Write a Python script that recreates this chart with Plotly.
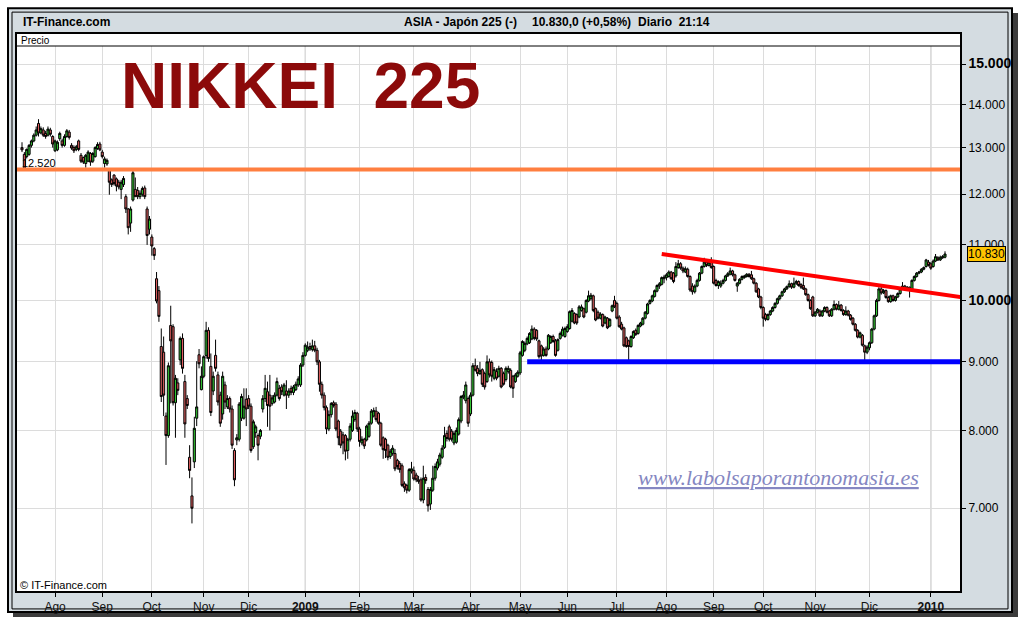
import math
import plotly.graph_objects as go

# Daily Nikkei 225 candles (open, high, low, close), one list per month
JUL08 = [
    (13000, 13120, 12900, 12950), (12850, 12900, 12500, 12530), (12800, 12980, 12760, 12960),
    (12850, 13080, 12820, 13050), (13050, 13180, 13000, 13150), (13150, 13320, 13120, 13280),
    (13280, 13480, 13250, 13400), (13550, 13650, 13250, 13330), (13330, 13480, 13300, 13430),
    (13400, 13460, 13240, 13280), (13320, 13380, 13200, 13250), (13280, 13480, 13250, 13420),
    (13400, 13450, 13250, 13300), (13250, 13280, 13000, 13080),
]
AUG08 = [
    (12930, 13180, 12900, 13150), (12950, 13160, 12920, 13120), (13200, 13360, 13150, 13320),
    (13150, 13200, 13000, 13050), (13050, 13300, 13020, 13250), (13250, 13420, 13220, 13380),
    (13350, 13400, 13180, 13230), (13050, 13100, 12950, 12990), (13000, 13050, 12880, 12930),
    (12960, 13060, 12920, 13020), (13150, 13180, 12920, 12960), (12830, 12880, 12660, 12700),
    (12780, 12800, 12640, 12680), (12650, 12860, 12560, 12830), (12700, 12940, 12680, 12900),
    (12870, 12900, 12600, 12680), (12700, 12900, 12660, 12870), (12800, 13030, 12780, 13000),
    (12980, 13120, 12950, 13070), (13080, 13130, 12920, 12950),
]
SEP08 = [
    (12900, 12950, 12760, 12800), (12650, 12800, 12560, 12750), (12640, 12760, 12600, 12720),
    (12500, 12540, 11990, 12250), (12300, 12330, 12150, 12200), (12400, 12420, 12180, 12220),
    (12320, 12350, 12060, 12170), (12250, 12300, 12100, 12150), (12100, 12300, 11900, 12250),
    (12200, 12380, 12150, 12330), (11950, 12000, 11620, 11700), (11700, 11720, 11200, 11330),
    (11420, 11750, 11250, 11700), (11880, 12520, 11850, 12450), (12100, 12350, 11950, 11950),
    (12080, 12150, 11900, 11950), (11950, 12080, 11900, 12020), (12000, 12160, 11950, 12120),
    (12130, 12180, 11900, 11950), (11700, 11750, 11000, 11180), (11300, 11560, 11200, 11500),
]
OCT08 = [
    (11150, 11200, 10800, 10980), (10930, 10960, 10720, 10800), (10380, 10500, 9950, 9990),
    (10170, 10250, 9640, 9730), (9240, 9530, 8400, 8480), (9150, 9400, 8200, 8500),
    (8200, 8250, 7540, 7930), (7930, 8990, 7900, 8940), (9580, 9910, 8380, 9330),
    (9560, 9600, 8350, 8390), (8390, 8800, 7900, 8750), (8680, 8750, 8500, 8570),
    (9030, 9400, 8950, 9370), (9370, 9450, 8820, 8900), (8700, 8800, 7900, 8090),
    (8450, 8500, 8300, 8350), (7640, 7800, 7370, 7470), (7150, 7380, 6820, 7000),
    (7580, 8190, 7500, 8030), (8170, 9010, 8060, 8330), (9110, 9200, 8900, 8970),
    (8580, 8930, 8570, 8780),
]
NOV08 = [
    (8780, 9100, 8750, 9080), (9100, 9640, 9050, 9500), (9500, 9550, 9000, 9050),
    (8930, 9130, 8200, 8250), (8560, 8850, 8500, 8780), (9100, 9350, 8850, 8900),
    (8800, 8850, 8350, 8400), (8500, 8550, 8050, 8100), (8230, 8850, 8150, 8780),
    (8650, 8700, 8300, 8400), (8330, 8500, 8300, 8450), (8450, 8480, 8250, 8300),
    (8300, 8350, 7750, 7800), (7730, 7760, 7270, 7350), (7870, 7950, 7800, 7900),
    (7880, 8400, 7850, 8370), (8170, 8520, 8130, 8480), (8170, 8600, 8150, 8340),
    (8440, 8600, 8060, 8300),
]
DEC08 = [
    (8450, 8500, 8300, 8340), (8340, 8380, 7700, 7730), (7780, 8150, 7750, 8120),
    (7970, 8080, 7900, 8050), (7930, 7960, 7600, 7800), (7920, 8020, 7880, 8000),
    (8300, 8500, 8250, 8450), (8450, 8800, 8400, 8600), (8550, 8700, 8050, 8350),
    (8500, 8800, 8000, 8340), (8380, 8500, 8350, 8460), (8400, 8540, 8380, 8500),
    (8500, 8760, 8480, 8700), (8600, 8650, 8420, 8450), (8620, 8660, 8500, 8550),
    (8500, 8680, 8480, 8650), (8560, 8720, 8300, 8500), (8500, 8600, 8460, 8560),
    (8600, 8640, 8500, 8540), (8540, 8650, 8500, 8620), (8580, 8700, 8560, 8660),
    (8650, 8780, 8620, 8740), (8650, 8980, 8620, 8950), (8950, 9150, 8920, 9100),
]
JAN09 = [
    (9100, 9290, 9080, 9260), (9180, 9320, 9150, 9230), (9240, 9300, 9170, 9200),
    (9190, 9350, 9160, 9250), (9250, 9330, 9150, 9180), (9180, 9220, 8950, 9000),
    (9000, 9030, 8550, 8660), (8660, 8700, 8450, 8500), (8500, 8540, 8280, 8320),
    (8320, 8350, 7950, 8020), (8020, 8280, 7990, 8220), (8220, 8400, 8180, 8380),
    (8390, 8420, 8320, 8350), (8370, 8400, 7990, 8020), (8130, 8150, 7800, 7900),
    (7990, 8020, 7760, 7800), (7940, 7980, 7680, 7830), (7930, 7950, 7600, 7720),
    (7730, 7900, 7620, 7880), (7880, 8100, 7850, 8060), (8000, 8280, 7980, 8200),
    (8150, 8290, 8120, 8250), (8240, 8260, 7980, 8020),
]
FEB09 = [
    (8020, 8050, 7780, 7850), (7830, 7920, 7800, 7880), (7880, 7900, 7750, 7790),
    (7870, 8080, 7850, 8060), (7920, 8130, 7900, 8100), (8100, 8300, 8080, 8270),
    (8200, 8320, 8180, 8280), (8270, 8330, 8120, 8150), (8240, 8260, 8080, 8100),
    (8100, 8120, 7780, 7800), (7900, 7920, 7620, 7740), (7880, 7900, 7630, 7730),
    (7800, 7820, 7600, 7640), (7650, 7750, 7620, 7720), (7690, 7800, 7660, 7760),
    (7690, 7750, 7460, 7490), (7600, 7620, 7480, 7520), (7560, 7590, 7440, 7480),
    (7530, 7560, 7260, 7280), (7300, 7330, 7200, 7250), (7280, 7300, 7180, 7220),
    (7220, 7500, 7200, 7480), (7460, 7580, 7430, 7490),
]
MAR09 = [
    (7470, 7520, 7340, 7360), (7410, 7440, 7320, 7350), (7350, 7400, 7300, 7330),
    (7350, 7380, 7080, 7100), (7100, 7530, 7060, 7370), (7380, 7420, 7300, 7340),
    (7230, 7260, 6960, 7030), (7050, 7260, 6980, 7230), (7220, 7530, 7200, 7370),
    (7370, 7560, 7340, 7520), (7500, 7620, 7470, 7580), (7550, 7700, 7520, 7670),
    (7640, 7800, 7620, 7760), (7770, 8050, 7750, 7930), (7960, 8000, 7850, 7890),
    (8050, 8080, 7850, 7880), (7990, 8020, 7850, 7880), (7830, 7990, 7800, 7960),
    (7840, 8040, 7820, 8000), (7950, 8180, 7930, 8150), (8130, 8500, 8100, 8480),
    (8470, 8560, 8440, 8500), (8420, 8700, 8380, 8650), (8450, 8480, 8050, 8100),
]
APR09 = [
    (8230, 8540, 8200, 8500), (8500, 8980, 8480, 8940), (8940, 9050, 8850, 8870),
    (8900, 8950, 8780, 8820), (8820, 9000, 8800, 8870), (8880, 8900, 8620, 8660),
    (8820, 8850, 8580, 8620), (8700, 9100, 8680, 9000), (9000, 9050, 8760, 8800),
    (8990, 9020, 8700, 8780), (8750, 8920, 8720, 8880), (8850, 8900, 8720, 8750),
    (8780, 8940, 8760, 8900), (8900, 8920, 8600, 8620), (8820, 8850, 8640, 8660),
    (8730, 8930, 8700, 8900), (8850, 8940, 8820, 8900), (8870, 8900, 8600, 8620),
    (8780, 8800, 8460, 8600), (8700, 8830, 8680, 8800), (8780, 8870, 8760, 8840),
]
MAY09 = [
    (8830, 9170, 8800, 9140), (9100, 9340, 9080, 9320), (9180, 9320, 9150, 9290),
    (9280, 9400, 9260, 9370), (9300, 9470, 9280, 9450), (9360, 9580, 9340, 9520),
    (9520, 9550, 9340, 9370), (9500, 9520, 9330, 9360), (9330, 9350, 9050, 9080),
    (9250, 9270, 9000, 9090), (9100, 9230, 9080, 9200), (9200, 9240, 9080, 9100),
    (9200, 9440, 9180, 9420), (9300, 9420, 9280, 9400), (9400, 9430, 9300, 9320),
    (9330, 9360, 9080, 9100), (9180, 9370, 9160, 9350), (9370, 9480, 9350, 9450),
    (9420, 9560, 9400, 9520), (9400, 9560, 9380, 9530),
]
JUN09 = [
    (9480, 9600, 9460, 9560), (9530, 9830, 9510, 9810), (9650, 9870, 9630, 9830),
    (9780, 9800, 9600, 9620), (9760, 9780, 9590, 9620), (9720, 9920, 9700, 9890),
    (9830, 9930, 9810, 9890), (9860, 9880, 9700, 9720), (9800, 10020, 9780, 10000),
    (9990, 10170, 9970, 10080), (10030, 10130, 10000, 10090), (10080, 10100, 9800, 9830),
    (9860, 9880, 9650, 9670), (9800, 9830, 9680, 9700), (9700, 9800, 9680, 9770),
    (9760, 9780, 9550, 9570), (9620, 9740, 9600, 9720), (9700, 9720, 9520, 9540),
    (9570, 9700, 9550, 9680), (9820, 9930, 9800, 9910), (10000, 10080, 9870, 9890),
]
JUL09 = [
    (9950, 9980, 9680, 9700), (9720, 9750, 9540, 9560), (9600, 9640, 9500, 9520),
    (9540, 9560, 9230, 9250), (9380, 9400, 9220, 9240), (9330, 9350, 9000, 9240),
    (9240, 9420, 9220, 9400), (9380, 9500, 9360, 9480), (9500, 9530, 9410, 9430),
    (9450, 9600, 9430, 9580), (9570, 9640, 9550, 9620), (9600, 9720, 9580, 9700),
    (9700, 9820, 9680, 9800), (9780, 9960, 9760, 9940), (9950, 10020, 9930, 10000),
    (9990, 10100, 9970, 10080), (10070, 10190, 10050, 10170), (10160, 10280, 10140, 10260),
    (10250, 10320, 10200, 10290), (10280, 10420, 10260, 10400), (10380, 10450, 10300, 10410),
]
AUG09 = [
    (10400, 10480, 10350, 10450), (10420, 10530, 10400, 10500), (10500, 10520, 10360, 10380),
    (10480, 10500, 10300, 10330), (10430, 10680, 10400, 10600), (10580, 10720, 10560, 10650),
    (10650, 10680, 10540, 10570), (10570, 10600, 10480, 10520), (10500, 10600, 10480, 10560),
    (10550, 10580, 10400, 10420), (10420, 10440, 10150, 10180), (10250, 10300, 10100, 10150),
    (10150, 10280, 10120, 10250), (10250, 10380, 10230, 10350), (10350, 10500, 10330, 10480),
    (10480, 10620, 10460, 10600), (10600, 10760, 10580, 10680), (10680, 10700, 10590, 10620),
    (10620, 10720, 10600, 10680), (10680, 10770, 10560, 10580),
]
SEP09 = [
    (10600, 10620, 10280, 10300), (10350, 10380, 10240, 10260), (10260, 10350, 10200, 10330),
    (10250, 10350, 10220, 10300), (10300, 10380, 10280, 10350), (10350, 10450, 10330, 10430),
    (10430, 10500, 10410, 10470), (10460, 10580, 10440, 10520), (10520, 10540, 10420, 10450),
    (10450, 10470, 10330, 10350), (10250, 10320, 10150, 10300), (10300, 10390, 10280, 10370),
    (10370, 10440, 10350, 10420), (10400, 10450, 10380, 10430), (10420, 10480, 10400, 10460),
    (10460, 10480, 10400, 10420), (10450, 10520, 10360, 10380), (10380, 10400, 10280, 10300),
    (10300, 10320, 10130, 10150), (10200, 10220, 10040, 10060), (10060, 10080, 9850, 9880),
]
OCT09 = [
    (9880, 9900, 9560, 9700), (9760, 9790, 9650, 9680), (9680, 9780, 9660, 9760),
    (9760, 9840, 9740, 9820), (9820, 9900, 9800, 9880), (9880, 9970, 9860, 9950),
    (9950, 10050, 9930, 10030), (10030, 10100, 10000, 10080), (10080, 10170, 10060, 10150),
    (10150, 10220, 10130, 10200), (10200, 10260, 10180, 10240), (10240, 10350, 10220, 10290),
    (10290, 10310, 10200, 10230), (10230, 10400, 10210, 10300), (10300, 10360, 10270, 10330),
    (10330, 10350, 10240, 10260), (10280, 10300, 10200, 10230), (10260, 10400, 10180, 10200),
    (10200, 10220, 10080, 10100), (10100, 10120, 9980, 10000), (10000, 10020, 9840, 9860),
    (10060, 10080, 9720, 9740),
]
NOV09 = [
    (9740, 9820, 9720, 9800), (9800, 9870, 9780, 9850), (9820, 9850, 9720, 9740),
    (9740, 9840, 9720, 9820), (9820, 9900, 9800, 9880), (9880, 9900, 9780, 9800),
    (9820, 9840, 9720, 9740), (9740, 9870, 9720, 9850), (9850, 10000, 9830, 9930),
    (9930, 9950, 9830, 9850), (9850, 9990, 9830, 9920), (9920, 9940, 9810, 9830),
    (9830, 9850, 9740, 9760), (9760, 9900, 9740, 9820), (9820, 9840, 9730, 9750),
    (9750, 9770, 9660, 9680), (9700, 9720, 9580, 9600), (9600, 9620, 9480, 9500),
    (9500, 9520, 9370, 9390), (9390, 9480, 9370, 9460), (9420, 9440, 9240, 9260),
    (9250, 9270, 9000, 9150), (9150, 9260, 9120, 9230),
]
DEC09 = [
    (9220, 9320, 9180, 9300), (9300, 9540, 9280, 9520), (9520, 9760, 9500, 9740),
    (9740, 10030, 9720, 10000), (10000, 10230, 9980, 10200), (10200, 10240, 10100, 10130),
    (10130, 10200, 10110, 10170), (10170, 10190, 10030, 10050), (10050, 10080, 9960, 9980),
    (9980, 10100, 9960, 10080), (10080, 10100, 9980, 10000), (10000, 10080, 9980, 10060),
    (10060, 10140, 10040, 10120), (10120, 10220, 10100, 10200), (10200, 10320, 10180, 10250),
    (10250, 10270, 10170, 10190), (10190, 10250, 10170, 10230), (10230, 10240, 10050, 10180),
    (10180, 10370, 10160, 10350), (10350, 10440, 10330, 10420), (10420, 10500, 10400, 10480),
    (10480, 10520, 10460, 10500), (10500, 10570, 10480, 10550), (10550, 10600, 10530, 10580),
    (10600, 10740, 10580, 10720), (10680, 10720, 10600, 10620),
]
JAN10 = [
    (10650, 10680, 10540, 10570), (10600, 10730, 10580, 10700), (10700, 10830, 10680, 10780),
    (10760, 10790, 10700, 10720), (10720, 10800, 10700, 10770), (10760, 10810, 10740, 10780),
    (10770, 10880, 10750, 10830),
]

MONTH_BLOCKS = [JUL08, AUG08, SEP08, OCT08, NOV08, DEC08, JAN09, FEB09, MAR09, APR09,
                MAY09, JUN09, JUL09, AUG09, SEP09, OCT09, NOV09, DEC09, JAN10]
# labels for the month boundaries after the first (partial) month
MONTH_LABELS = ["Ago", "Sep", "Oct", "Nov", "Dic", "2009", "Feb", "Mar", "Abr", "May",
                "Jun", "Jul", "Ago", "Sep", "Oct", "Nov", "Dic", "2010"]
YEAR_LABELS = {"2009", "2010"}

PRICE_TICKS = [7000, 8000, 9000, 10000, 11000, 12000, 13000, 14000, 15000]
PRICE_TICK_TEXT = ["7.000", "8.000", "9.000", "10.000", "11.000", "12.000", "13.000", "14.000", "15.000"]
MAJOR_TICKS = {10000, 15000}

RESISTANCE = 12520          # horizontal level drawn in orange
SUPPORT = 9000              # horizontal support drawn in blue
SUPPORT_FROM = 214          # candle index where the support line starts
TREND_START = (271, 10830)  # descending trend line (index, price)
TREND_END = (398, 10057)
LAST_PRICE = 10830

# ---- assemble series ----
opens, highs, lows, closes, month_start = [], [], [], [], []
for block in MONTH_BLOCKS:
    month_start.append(len(closes))
    for o, h, l, c in block:
        opens.append(o); highs.append(h); lows.append(l); closes.append(c)
xs = list(range(len(closes)))
tick_idx = month_start[1:]
tick_txt = [f"<b>{t}</b>" if t in YEAR_LABELS else t for t in MONTH_LABELS]
year_idx = [i for i, t in zip(tick_idx, MONTH_LABELS) if t in YEAR_LABELS]

# ---- page geometry (pixels) ----
W, H = 1026, 626
PL, PR, PT, PB = 17, 960, 46, 593   # plot data area


def fx(p):
    return (p - PL) / (PR - PL)


def fy(p):
    return (PB - p) / (PB - PT)


SANS = "Liberation Sans, Arial, sans-serif"

fig = go.Figure()
fig.add_trace(go.Candlestick(
    x=xs, open=opens, high=highs, low=lows, close=closes,
    increasing=dict(line=dict(color="black", width=1), fillcolor="#33c633"),
    decreasing=dict(line=dict(color="black", width=1), fillcolor="#dc5e5e"),
    whiskerwidth=0, hoverinfo="skip", showlegend=False,
))
fig.add_trace(go.Scatter(x=[-10, len(xs) + 20], y=[RESISTANCE, RESISTANCE], mode="lines",
                         line=dict(color="#ff7f40", width=4), hoverinfo="skip"))
fig.add_trace(go.Scatter(x=[SUPPORT_FROM, len(xs) + 20], y=[SUPPORT, SUPPORT], mode="lines",
                         line=dict(color="#0000ff", width=5), hoverinfo="skip"))
fig.add_trace(go.Scatter(x=[TREND_START[0], TREND_END[0]], y=[TREND_START[1], TREND_END[1]],
                         mode="lines", line=dict(color="#ff0000", width=4), hoverinfo="skip"))

x_lo = -(22 - PL) / 2.3606
x_hi = (len(xs) - 1) + (PR - 945) / 2.3606
y_lo = math.log10(6073)
y_hi = math.log10(15477)

fig.update_layout(
    width=W, height=H,
    margin=dict(l=PL, r=W - PR, t=PT, b=H - PB, pad=0),
    paper_bgcolor="white", plot_bgcolor="white",
    showlegend=False,
    boxgap=0.0, boxgroupgap=0.12,
    font=dict(family=SANS, color="black", size=12),
    xaxis=dict(
        type="linear", range=[x_lo, x_hi], tickmode="array", tickvals=tick_idx, ticktext=tick_txt,
        ticks="outside", ticklen=5, tickcolor="black", tickwidth=1,
        showgrid=True, gridcolor="#dcdcdc", gridwidth=1, zeroline=False, showline=False,
        tickfont=dict(size=12, color="#111"), rangeslider=dict(visible=False), fixedrange=True,
    ),
    yaxis=dict(
        type="log", side="right", range=[y_lo, y_hi], tickmode="array", tickvals=PRICE_TICKS,
        ticktext=[f"<b><span style='font-size:14px'>{t}</span></b>" if v in MAJOR_TICKS else t
                  for v, t in zip(PRICE_TICKS, PRICE_TICK_TEXT)],
        ticks="outside", ticklen=5, tickcolor="black", tickwidth=1,
        showgrid=True, gridcolor="#dcdcdc", gridwidth=1, zeroline=False, showline=False,
        tickfont=dict(size=12, color="black"), fixedrange=True,
    ),
)

shapes = [
    # drop shadow and grey frame
    dict(type="rect", xref="paper", yref="paper", x0=fx(13), x1=fx(1018), y0=fy(13), y1=fy(619),
         fillcolor="#3c3c3c", line=dict(width=0), layer="below"),
    dict(type="rect", xref="paper", yref="paper", x0=fx(8), x1=fx(1012), y0=fy(8), y1=fy(614),
         fillcolor="#d4dce1", line=dict(color="black", width=2), layer="below"),
    dict(type="rect", xref="paper", yref="paper", x0=fx(12), x1=fx(1008), y0=fy(12), y1=fy(611),
         line=dict(color="black", width=1), layer="below"),
    dict(type="rect", xref="paper", yref="paper", x0=fx(16), x1=fx(961), y0=fy(33), y1=fy(594),
         fillcolor="white", line=dict(width=0), layer="below"),
    # plot border and "Precio" separator
    dict(type="rect", xref="paper", yref="paper", x0=fx(16), x1=fx(961), y0=fy(33), y1=fy(594),
         line=dict(color="black", width=2), layer="above"),
    dict(type="line", xref="paper", yref="paper", x0=fx(16), x1=fx(961), y0=fy(46), y1=fy(46),
         line=dict(color="black", width=1), layer="above"),
]
for yi in year_idx:
    shapes.append(dict(type="line", xref="x", yref="paper", x0=yi, x1=yi, y0=0, y1=1,
                       line=dict(color="#a8a8a8", width=1), layer="below"))
fig.update_layout(shapes=shapes)

ann = [
    dict(text="<b>NIKKEI\u00a0\u00a0225</b>", xref="paper", yref="paper", x=fx(119), y=fy(86),
         xanchor="left", yanchor="middle", showarrow=False,
         font=dict(family=SANS, size=64, color="#8c0a0a")),
    dict(text="<b>IT-Finance.com</b>", xref="paper", yref="paper", x=fx(21), y=fy(22),
         xanchor="left", yanchor="middle", showarrow=False, font=dict(size=12, color="black")),
    dict(text="<b>ASIA - Japón 225 (-)</b>", xref="paper", yref="paper", x=fx(402), y=fy(22),
         xanchor="left", yanchor="middle", showarrow=False, font=dict(size=12, color="black")),
    dict(text="<b>10.830,0 (+0,58%)</b>", xref="paper", yref="paper", x=fx(530), y=fy(22),
         xanchor="left", yanchor="middle", showarrow=False, font=dict(size=12, color="black")),
    dict(text="<b>Diario\u00a0\u00a021:14</b>", xref="paper", yref="paper", x=fx(636), y=fy(22),
         xanchor="left", yanchor="middle", showarrow=False, font=dict(size=12, color="black")),
    dict(text="Precio", xref="paper", yref="paper", x=fx(19), y=fy(40),
         xanchor="left", yanchor="middle", showarrow=False, font=dict(size=10, color="black")),
    dict(text="© IT-Finance.com", xref="paper", yref="paper", x=fx(18), y=fy(587),
         xanchor="left", yanchor="middle", showarrow=False, font=dict(size=11, color="black")),
    dict(text="12.520", xref="paper", yref="y", x=fx(20), y=math.log10(RESISTANCE), yshift=7,
         xanchor="left", yanchor="middle", showarrow=False, font=dict(size=11, color="black")),
    dict(text=f"{LAST_PRICE / 1000:.3f}", xref="paper", yref="y", x=fx(967), y=math.log10(LAST_PRICE),
         xanchor="left", yanchor="middle", showarrow=False, bgcolor="#ffc400",
         bordercolor="black", borderwidth=1, borderpad=0, font=dict(size=12, color="black")),
    dict(text="www.labolsaporantonomasia.es", xref="paper", yref="paper", x=fx(778), y=fy(479),
         xanchor="center", yanchor="middle", showarrow=False,
         font=dict(family="Liberation Serif, Times New Roman, serif", size=22, color="#8587c2",
                   style="italic", lineposition="under")),
]
fig.update_layout(annotations=ann)

fig.write_html("out.html")
